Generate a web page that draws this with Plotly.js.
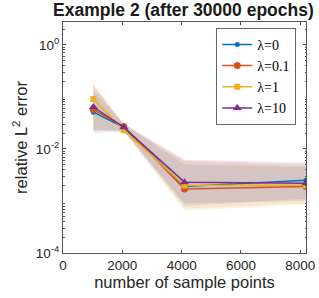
<!DOCTYPE html>
<html><head><meta charset="utf-8">
<script src="https://cdn.plot.ly/plotly-3.0.1.min.js"></script>
<style>html,body{margin:0;padding:0;background:#fff}#chart{width:319px;height:298px}</style>
</head><body><div id="chart"></div>
<script>
const samplePoints = [1024, 2048, 4096, 8192];
const seriesNames = ['λ=0', 'λ=0.1', 'λ=1', 'λ=10'];
const meanLam0   = [0.051, 0.026, 0.0019, 0.0025];
const meanLam01  = [0.057, 0.027, 0.0017, 0.0019];
const meanLam1   = [0.091, 0.023, 0.0020, 0.0020];
const meanLam10  = [0.064, 0.026, 0.0023, 0.0022];
const upperLam0  = [0.13, 0.030, 0.0050, 0.0045];
const lowerLam0  = [0.020, 0.022, 0.0008, 0.0011];
const upperLam01 = [0.16, 0.031, 0.0060, 0.0050];
const lowerLam01 = [0.022, 0.023, 0.0007, 0.0009];
const upperLam1  = [0.19, 0.029, 0.0058, 0.0048];
const lowerLam1  = [0.023, 0.021, 0.00065, 0.00085];
const upperLam10 = [0.17, 0.030, 0.0062, 0.0055];
const lowerLam10 = [0.024, 0.022, 0.0009, 0.0010];
const tickValsY = [1e-4, 1e-2, 1];
const tickTextY = ['10<sup>-4</sup>', '10<sup>-2</sup>', '10<sup>0</sup>'];

const colors = ['#0072BD', '#D95319', '#EDB120', '#7E2F8E'];
const fills = ['rgba(0,114,189,0.12)', 'rgba(217,83,25,0.10)', 'rgba(237,177,32,0.12)', 'rgba(126,47,142,0.11)'];
const symbols = ['circle', 'circle', 'square', 'triangle-up'];
const sizes = [5, 7, 6, 8];
const means = [meanLam0, meanLam01, meanLam1, meanLam10];
const uppers = [upperLam0, upperLam01, upperLam1, upperLam10];
const lowers = [lowerLam0, lowerLam01, lowerLam1, lowerLam10];

const traces = [];
for (let i = 0; i < 4; i++) {
  traces.push({
    x: samplePoints.concat(samplePoints.slice().reverse()),
    y: uppers[i].concat(lowers[i].slice().reverse()),
    type: 'scatter', mode: 'lines', fill: 'toself', fillcolor: fills[i],
    line: {width: 0}, showlegend: false, hoverinfo: 'skip'
  });
}
for (let i = 0; i < 4; i++) {
  traces.push({
    x: samplePoints, y: means[i], name: seriesNames[i],
    type: 'scatter', mode: 'lines+markers',
    line: {color: colors[i], width: 1.5},
    marker: {color: colors[i], symbol: symbols[i], size: sizes[i]}
  });
}
const minorY = [];
for (let d = -4; d <= 0; d++) for (let k = 2; k <= 9; k++) { const v = k * Math.pow(10, d); if (v < 3) minorY.push(v); }

const layout = {
  width: 319, height: 298,
  margin: {l: 63, r: 13, t: 22, b: 45},
  paper_bgcolor: '#fff', plot_bgcolor: '#fff',
  font: {family: 'Liberation Sans, Arial, sans-serif', color: '#262626', size: 13.5},
  title: {text: '<b>Example 2 (after 30000 epochs)</b>', x: 0.575, xanchor: 'center', y: 0.966, yanchor: 'middle', font: {size: 17.5, color: '#1a1a1a'}},
  xaxis: {
    range: [0, 8192], tickvals: [0, 2000, 4000, 6000, 8000], ticks: 'inside', ticklen: 3,
    showline: true, linecolor: '#555', linewidth: 1, mirror: 'ticks', showgrid: false, zeroline: false,
    tickfont: {size: 13.5},
    title: {text: 'number of sample points', font: {size: 16.5}, standoff: 3}
  },
  yaxis: {
    type: 'log', range: [-4, 0.44], tickmode: 'array', tickvals: tickValsY, ticktext: tickTextY,
    ticks: 'inside', ticklen: 3, showline: true, linecolor: '#555', linewidth: 1, mirror: 'ticks',
    showgrid: false, zeroline: false, tickfont: {size: 13.5},
    minor: {tickmode: 'array', tickvals: minorY, ticks: 'inside', ticklen: 1.5, tickcolor: '#555'},
    title: {text: 'relative L<sup>2</sup> error', font: {size: 16.5}, standoff: 4}
  },
  legend: {
    x: 0.96, y: 0.975, xanchor: 'right', yanchor: 'top',
    bgcolor: '#fff', bordercolor: '#666', borderwidth: 1,
    font: {family: 'Liberation Serif, DejaVu Serif, serif', size: 14, color: '#000'},
    itemwidth: 30, tracegroupgap: 0
  }
};
Plotly.newPlot('chart', traces, layout, {displayModeBar: false, staticPlot: true});
</script></body></html>
